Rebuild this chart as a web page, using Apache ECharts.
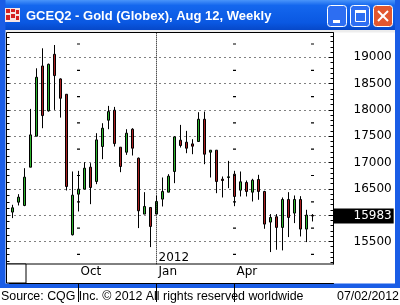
<!DOCTYPE html>
<html><head><meta charset="utf-8">
<script src="https://cdn.jsdelivr.net/npm/echarts@6/dist/echarts.min.js"></script>
<style>html,body{margin:0;padding:0;background:#fff}#c{width:400px;height:305px}</style>
</head><body><div id="c"></div>
<script>
// ---- data ----
const categories = [
 '2011-07-18','2011-07-25','2011-08-01','2011-08-08','2011-08-15','2011-08-22','2011-08-29','2011-09-05',
 '2011-09-12','2011-09-19','2011-09-26','2011-10-03','2011-10-10','2011-10-17','2011-10-24','2011-10-31',
 '2011-11-07','2011-11-14','2011-11-21','2011-11-28','2011-12-05','2011-12-12','2011-12-19','2011-12-26',
 '2012-01-02','2012-01-09','2012-01-16','2012-01-23','2012-01-30','2012-02-06','2012-02-13','2012-02-20',
 '2012-02-27','2012-03-05','2012-03-12','2012-03-19','2012-03-26','2012-04-02','2012-04-09','2012-04-16',
 '2012-04-23','2012-04-30','2012-05-07','2012-05-14','2012-05-21','2012-05-28','2012-06-04','2012-06-11',
 '2012-06-18','2012-06-25','2012-07-02','2012-07-09','2012-07-16','2012-07-23'];
const opens  = [16057,16246,16183,16911,17500,18835,17981,19057,18589,18297,15626,16398,16493,16911,16639,17304,
 17804,17994,17291,17196,17633,17082,16019,16145,16019,16304,16436,16829,17424,17386,17354,17399,17822,17196,
 17234,16683,16715,16778,16474,16620,16436,16677,16449,15867,15968,15766,16297,16038,16297,15734,15995];
const closes = [16139,16341,16721,17525,18620,17892,18867,18652,18221,16544,16379,16493,16892,16525,17430,17652,
 17968,17360,16924,17557,17272,16082,16164,15784,16259,16449,16740,17487,17323,17272,17310,17822,17158,17234,
 16639,16658,16728,16354,16633,16449,16664,16449,15829,15955,15766,16297,15955,16297,15734,16000,15983];
const lows   = [15943,16183,16170,16911,17500,17652,17968,18000,17854,16468,15613,16069,16493,16208,16588,17063,
 17633,17304,16816,17145,17133,15753,16019,15392,16019,16164,16436,16607,17285,17177,17158,17399,16968,16715,
 16417,16335,16512,16170,16354,16354,16259,16291,15740,15297,15341,15329,15582,15848,15594,15487,15879];
const highs  = [16196,16398,16892,18019,18791,19171,18880,19234,18600,18297,16829,16841,17006,16987,17557,17747,
 18076,18057,17291,17633,17652,17095,16436,16145,16367,16715,16778,17500,17715,17601,17443,17956,17968,17234,
 17234,16734,17031,16842,16829,16658,16690,16766,16462,16019,16019,16335,16436,16373,16360,16101,16019];
const lastPrice = 15983;
const monthLabels = {'2011-10-03':'Oct','2012-01-02':'Jan','2012-04-02':'Apr'};
const gridWeeks = ['2011-10-03','2012-04-02','2012-07-02'];
const yearWeek = '2012-01-02';
const yearLabel = '2012';
const titleText = 'GCEQ2 - Gold (Globex), Aug 12, Weekly';
const sourceText = 'Source: CQG Inc. \u00a9 2012 All rights reserved worldwide';
const dateText = '07/02/2012';

// ---- chart ----
const candleData = opens.map((o, i) => [o, closes[i], lows[i], highs[i]]);
const chart = echarts.init(document.getElementById('c'), null, {renderer: 'canvas'});
const numFont = 'DejaVu Sans';
const BLUE = '#1A5DE6';

const markData = gridWeeks.map(w => ({
  xAxis: w, lineStyle: {color: '#000', width: 3, type: [1.2, 25.1], dashOffset: 13.6, opacity: 1}
}));
markData.push({xAxis: yearWeek, lineStyle: {color: '#000', width: 1, type: [1, 1], opacity: 1}});
markData.push({
  yAxis: lastPrice,
  lineStyle: {color: 'rgba(0,0,0,0)', width: 1},
  label: {show: true, position: 'end', distance: 0, formatter: String(lastPrice),
          backgroundColor: '#000', color: '#fff', padding: [2, 2, 1, 20],
          fontFamily: numFont, fontSize: 12, lineHeight: 12}
});

const option = {
  animation: false,
  backgroundColor: '#fff',
  grid: [
    {left: 9.5, width: 324, top: 31, height: 236.7, outerBoundsMode: 'none', containLabel: false},
    {left: 9.5, width: 324, top: 264, height: 19, outerBoundsMode: 'none', containLabel: false}
  ],
  xAxis: [
    {type: 'category', gridIndex: 0, data: categories, show: false},
    {type: 'category', gridIndex: 1, data: categories, position: 'top', z: 150,
     axisLine: {show: true, lineStyle: {color: '#000', width: 1}},
     axisTick: {show: true, inside: true, length: 19, alignWithLabel: true,
                interval: (i, v) => monthLabels[categories[i]] !== undefined,
                lineStyle: {color: '#000', width: 1}},
     axisLabel: {show: true, inside: true, margin: 2, align: 'left', padding: [0, 0, 0, 2],
                 interval: (i, v) => monthLabels[categories[i]] !== undefined,
                 formatter: v => monthLabels[v] || '',
                 fontFamily: numFont, fontSize: 12, color: '#000'},
     splitLine: {show: false}}
  ],
  yAxis: [
    {type: 'value', gridIndex: 0, position: 'right', min: 15000, max: 19500, interval: 500,
     axisLine: {show: true, lineStyle: {color: '#000', width: 1}},
     axisTick: {show: true, inside: true, length: 5, lineStyle: {color: '#000'}},
     minorTick: {show: true, splitNumber: 5, length: 3, lineStyle: {color: '#000'}},
     axisLabel: {show: true, showMinLabel: false, showMaxLabel: false, margin: 20, align: 'left',
                 formatter: v => String(v),
                 padding: [0, 0, 3, 0], fontFamily: numFont, fontSize: 12, color: '#000'},
     splitLine: {show: true, showMinLine: false, showMaxLine: false,
                 lineStyle: {color: '#000', width: 1, type: [1, 4]}}},
    {type: 'value', gridIndex: 0, position: 'left', offset: 3, min: 15000, max: 19500, interval: 125,
     axisLine: {show: false},
     axisTick: {show: true, inside: true, length: 3, lineStyle: {color: '#000'}},
     axisLabel: {show: false}, splitLine: {show: false}},
    {type: 'value', gridIndex: 1, show: false}
  ],
  series: [{
    type: 'candlestick', xAxisIndex: 0, yAxisIndex: 0, barWidth: 3,
    data: candleData,
    itemStyle: {color: '#2DB22D', color0: '#A81E1E', borderColor: '#000', borderColor0: '#000', borderWidth: 1},
    markLine: {silent: true, symbol: ['none', 'none'], animation: false,
               label: {show: false}, data: markData}
  }],
  graphic: [
    // window chrome
    {type: 'rect', z: 100, shape: {x: 0, y: 0, width: 400, height: 30},
     style: {fill: {type: 'linear', x: 0, y: 0, x2: 0, y2: 1, colorStops: [
       {offset: 0, color: '#4A95FA'}, {offset: 0.18, color: '#1467EE'},
       {offset: 0.75, color: '#0A58E2'}, {offset: 1, color: '#0648C9'}]}}},
    {type: 'rect', z: 100, shape: {x: 5, y: 30, width: 390, height: 2.5}, style: {fill: '#EDEDED'}},
    {type: 'rect', z: 100, shape: {x: 5, y: 264.5, width: 390, height: 4}, style: {fill: '#fff'}},
    {type: 'rect', z: 100, shape: {x: 0, y: 0, width: 5.5, height: 288}, style: {fill: BLUE}},
    {type: 'rect', z: 100, shape: {x: 395, y: 0, width: 5, height: 288}, style: {fill: BLUE}},
    {type: 'rect', z: 100, shape: {x: 0, y: 283.5, width: 400, height: 4.5}, style: {fill: BLUE}},
    // plot frame
    {type: 'rect', z: 120, shape: {x: 6.5, y: 32.5, width: 327, height: 231.5},
     style: {fill: null, stroke: '#000', lineWidth: 1}},
    {type: 'rect', z: 120, shape: {x: 6.5, y: 264, width: 19.5, height: 19},
     style: {fill: '#fff', stroke: '#000', lineWidth: 1}},
    {type: 'text', z: 120, x: 158.5, y: 252, style: {text: yearLabel, fill: '#000',
     font: '12px "DejaVu Sans"', textVerticalAlign: 'top', verticalAlign: 'top'}},
    // icon
    {type: 'rect', z: 110, shape: {x: 5, y: 8, width: 15, height: 14}, style: {fill: '#F6E4E4'}},
    {type: 'rect', z: 111, shape: {x: 6, y: 9, width: 4, height: 4}, style: {fill: '#D42020'}},
    {type: 'rect', z: 111, shape: {x: 11, y: 9, width: 4, height: 3}, style: {fill: '#D42020'}},
    {type: 'rect', z: 111, shape: {x: 16, y: 10, width: 3, height: 4}, style: {fill: '#D42020'}},
    {type: 'rect', z: 111, shape: {x: 6, y: 15, width: 4, height: 5}, style: {fill: '#D42020'}},
    {type: 'rect', z: 111, shape: {x: 11, y: 14, width: 4, height: 4}, style: {fill: '#D42020'}},
    {type: 'rect', z: 111, shape: {x: 16, y: 16, width: 3, height: 4}, style: {fill: '#D42020'}},
    // title
    {type: 'text', z: 110, x: 26, y: 16.5, style: {text: titleText, fill: '#fff',
     font: 'bold 13px "Liberation Sans"', textVerticalAlign: 'middle', verticalAlign: 'middle'}},
    // buttons
    {type: 'rect', z: 110, shape: {x: 327.5, y: 5.5, width: 19, height: 21, r: 3},
     style: {fill: '#2D6EF2', stroke: '#fff', lineWidth: 1}},
    {type: 'rect', z: 111, shape: {x: 333, y: 20, width: 7, height: 3}, style: {fill: '#fff'}},
    {type: 'rect', z: 110, shape: {x: 350.5, y: 5.5, width: 19, height: 21, r: 3},
     style: {fill: '#2D6EF2', stroke: '#fff', lineWidth: 1}},
    {type: 'rect', z: 111, shape: {x: 355.5, y: 10.5, width: 10, height: 11},
     style: {fill: null, stroke: '#fff', lineWidth: 1}},
    {type: 'rect', z: 111, shape: {x: 355, y: 10, width: 11, height: 3}, style: {fill: '#fff'}},
    {type: 'rect', z: 110, shape: {x: 373.5, y: 5.5, width: 19, height: 21, r: 3},
     style: {fill: '#E2572F', stroke: '#fff', lineWidth: 1}},
    {type: 'line', z: 111, shape: {x1: 378, y1: 11, x2: 388, y2: 21}, style: {stroke: '#fff', lineWidth: 2}},
    {type: 'line', z: 111, shape: {x1: 388, y1: 11, x2: 378, y2: 21}, style: {stroke: '#fff', lineWidth: 2}},
    // status line
    {type: 'text', z: 100, x: 1, y: 297, style: {text: sourceText, fill: '#000',
     font: '12.4px "Liberation Sans"', textVerticalAlign: 'middle', verticalAlign: 'middle'}},
    {type: 'text', z: 100, x: 399, y: 297, style: {text: dateText, fill: '#000', textAlign: 'right', align: 'right',
     font: '12.4px "Liberation Sans"', textVerticalAlign: 'middle', verticalAlign: 'middle'}}
  ]
};
chart.setOption(option);
</script></body></html>
